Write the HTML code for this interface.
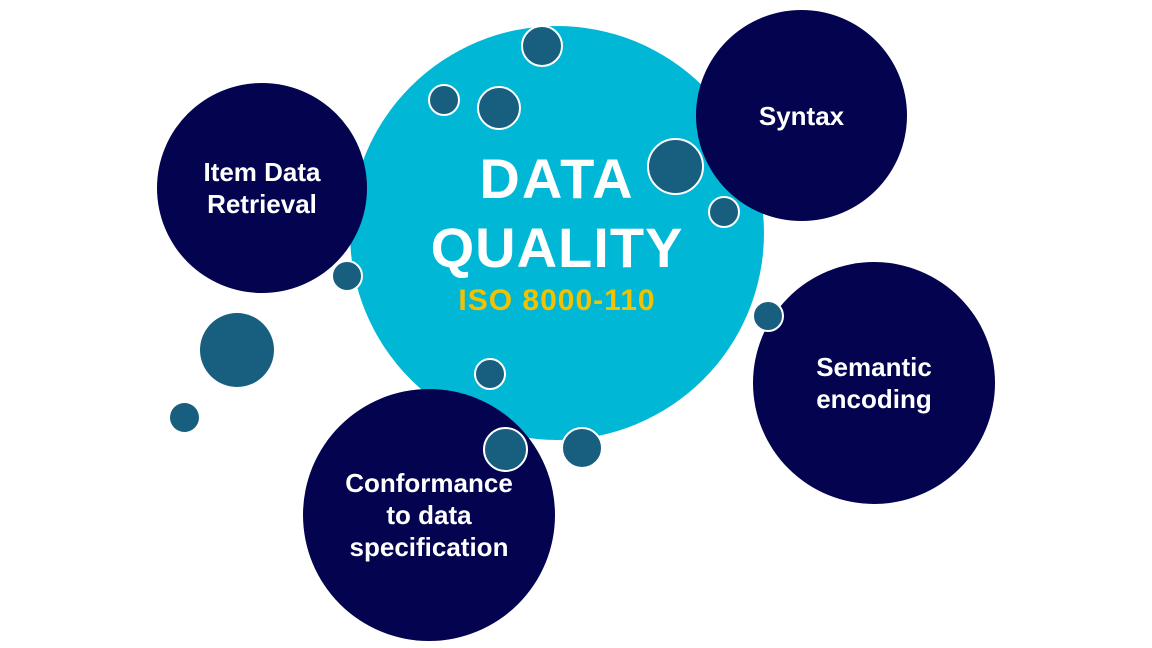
<!DOCTYPE html>
<html><head><meta charset="utf-8"><style>
html,body{margin:0;padding:0;background:#fff;}
body{width:1152px;height:648px;overflow:hidden;position:relative;font-family:"Liberation Sans",sans-serif;}
.c{position:absolute;border-radius:50%;box-sizing:border-box;}
.dk{background:#03034f;color:#fff;font-weight:bold;font-size:26px;line-height:32px;display:flex;align-items:center;justify-content:center;text-align:center;}
.sm{background:#175e7f;border:2px solid #fff;}
.t{position:absolute;left:357px;width:400px;text-align:center;font-weight:bold;}
</style></head><body>
<div class="c" style="left:350px;top:26px;width:414px;height:414px;background:#00b8d6;"></div>
<div class="t" style="top:146px;font-size:56px;color:#fff;letter-spacing:2px;">DATA</div>
<div class="t" style="top:215px;font-size:56px;color:#fff;letter-spacing:1px;">QUALITY</div>
<div class="t" style="top:284px;font-size:30px;color:#f2c200;letter-spacing:1px;">ISO 8000-110</div>

<div class="c dk" style="left:157px;top:83px;width:210px;height:210px;">Item Data<br>Retrieval</div>
<div class="c dk" style="left:696px;top:10px;width:211px;height:211px;">Syntax</div>
<div class="c dk" style="left:753px;top:262px;width:242px;height:242px;">Semantic<br>encoding</div>
<div class="c dk" style="left:303px;top:389px;width:252px;height:252px;">Conformance<br>to data<br>specification</div>

<div class="c sm" style="left:521px;top:25px;width:42px;height:42px;"></div>
<div class="c sm" style="left:428px;top:84px;width:32px;height:32px;"></div>
<div class="c sm" style="left:477px;top:86px;width:44px;height:44px;"></div>
<div class="c sm" style="left:647px;top:138px;width:57px;height:57px;"></div>
<div class="c sm" style="left:708px;top:196px;width:32px;height:32px;"></div>
<div class="c sm" style="left:331px;top:260px;width:32px;height:32px;"></div>
<div class="c sm" style="left:752px;top:300px;width:32px;height:32px;"></div>
<div class="c sm" style="left:474px;top:358px;width:32px;height:32px;"></div>
<div class="c sm" style="left:483px;top:427px;width:45px;height:45px;"></div>
<div class="c sm" style="left:561px;top:427px;width:42px;height:42px;"></div>
<div class="c" style="left:200px;top:313px;width:74px;height:74px;background:#175e7f;"></div>
<div class="c" style="left:170px;top:403px;width:29px;height:29px;background:#175e7f;"></div>
</body></html>
